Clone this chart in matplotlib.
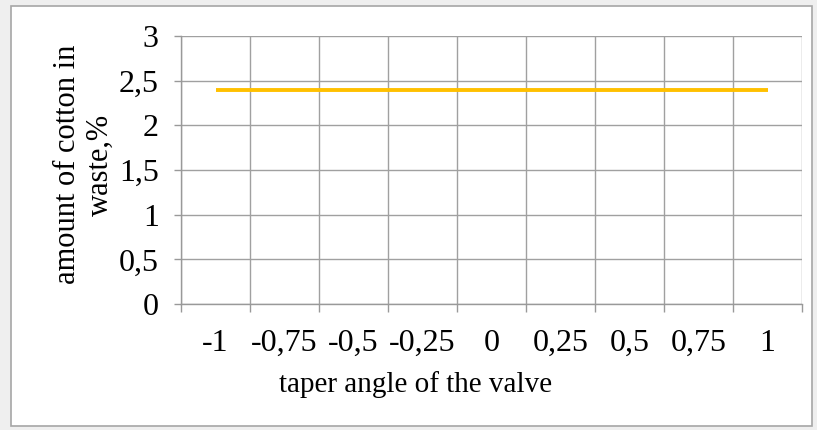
import matplotlib.pyplot as plt
import numpy as np
from matplotlib.patches import Rectangle

# Data
angles = ['-1', '-0,75', '-0,5', '-0,25', '0', '0,25', '0,5', '0,75', '1']
cotton_waste = [2.39, 2.39, 2.39, 2.39, 2.39, 2.39, 2.39, 2.39, 2.39]
y_ticks = [0, 0.5, 1, 1.5, 2, 2.5, 3]
y_labels = ['0', '0,5', '1', '1,5', '2', '2,5', '3']

plt.rcParams['font.family'] = ['Liberation Serif', 'DejaVu Serif']

fig = plt.figure(figsize=(8.17, 4.30), dpi=100)
fig.patch.set_facecolor('#efefef')

# chart area frame
fig.patches.append(Rectangle((11/817, 1 - 426/430), 801/817, 420/430,
                             transform=fig.transFigure, facecolor='white',
                             edgecolor='#a6a6a6', linewidth=1.2, zorder=-1))

ax = fig.add_axes([181/817, 1 - 304/430, 621/817, 268/430])
ax.set_zorder(2)
ax.set_facecolor('white')

x = np.arange(len(angles))
ax.plot(x, cotton_waste, color='#FFC000', linewidth=2.8, solid_capstyle='butt', zorder=3)

ax.set_xlim(-0.5, len(angles) - 0.5)
ax.set_ylim(0, 3)

ax.set_yticks(y_ticks)
ax.set_yticklabels(y_labels, fontsize=23)
ax.set_xticks(x)
ax.set_xticklabels(angles, fontsize=23)
ax.set_xticks(np.arange(-0.5, len(angles), 1), minor=True)

ax.tick_params(axis='x', which='major', length=0, pad=18)
ax.tick_params(axis='x', which='minor', length=6, color='#999999', width=1)
ax.tick_params(axis='y', length=5, color='#999999', width=1, pad=11)

ax.grid(True, axis='y', color='#a0a0a0', linewidth=1)
ax.grid(True, axis='x', which='minor', color='#a0a0a0', linewidth=1)
ax.set_axisbelow(True)

for side in ['top', 'right']:
    ax.spines[side].set_visible(False)
for side in ['left', 'bottom']:
    ax.spines[side].set_color('#999999')
    ax.spines[side].set_linewidth(1)

ax.set_xlabel('taper angle of the valve', fontsize=21)
ax.xaxis.set_label_coords(0.377, -0.25)
ax.set_ylabel('amount of cotton in\nwaste,%', fontsize=22, linespacing=1.15)
ax.yaxis.set_label_coords(-0.107, 0.52)

fig.savefig('out.png', dpi=100, facecolor=fig.get_facecolor())
